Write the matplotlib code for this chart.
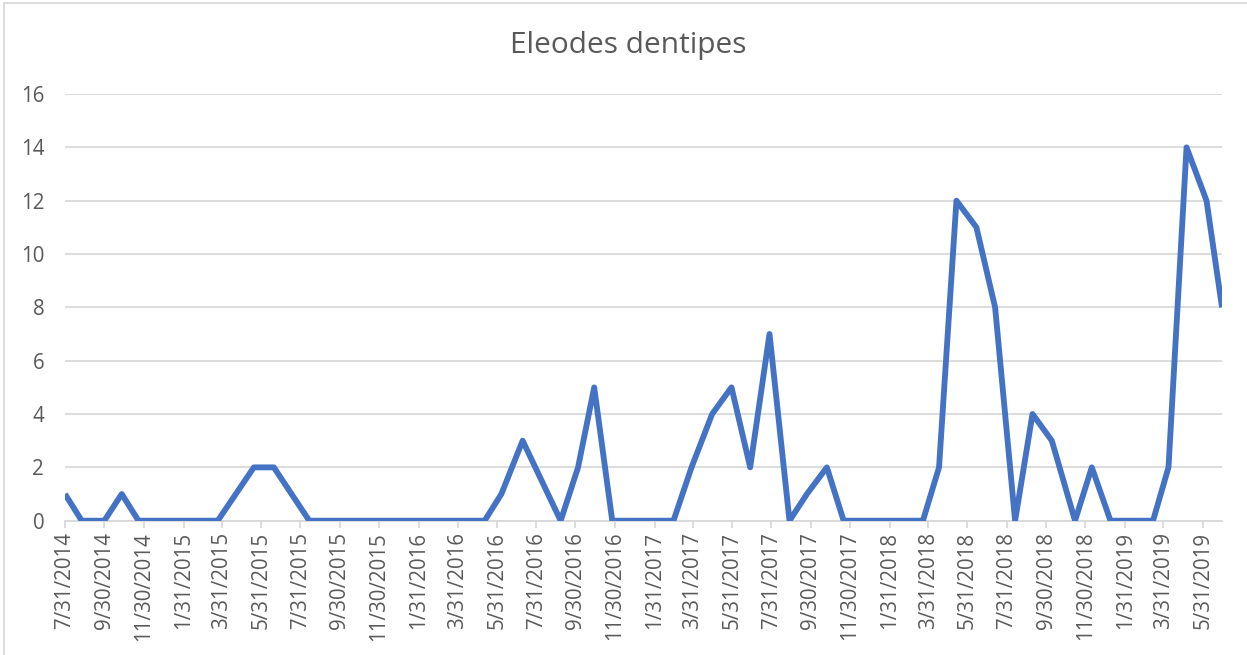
import matplotlib
matplotlib.use("Agg")
import matplotlib.pyplot as plt
from matplotlib.lines import Line2D
import pandas as pd

# Sampling dates and beetle counts
sample_dates = [
    "2014-07-31", "2014-08-26", "2014-09-30", "2014-10-27", "2014-11-22",
    "2015-03-25", "2015-05-20", "2015-06-20", "2015-08-14",
    "2016-05-12", "2016-06-07", "2016-07-10", "2016-09-07", "2016-10-04",
    "2016-10-29", "2016-11-26",
    "2017-03-01", "2017-03-29", "2017-04-30", "2017-05-30", "2017-06-28",
    "2017-07-28", "2017-08-28", "2017-09-24", "2017-10-25", "2017-11-20",
    "2018-03-23", "2018-04-17", "2018-05-14", "2018-06-14", "2018-07-13",
    "2018-08-13", "2018-09-09", "2018-10-09", "2018-11-14", "2018-12-10",
    "2019-01-08", "2019-03-15", "2019-04-08", "2019-05-06", "2019-06-06",
    "2019-06-30",
]
counts = [
    1, 0, 0, 1, 0,
    0, 2, 2, 0,
    0, 1, 3, 0, 2,
    5, 0,
    0, 2, 4, 5, 2,
    7, 0, 1, 2, 0,
    0, 2, 12, 11, 8,
    0, 4, 3, 0, 2,
    0, 0, 2, 14, 12,
    8,
]

# Axis tick positions (every second month end)
tick_dates = [
    "2014-07-31", "2014-09-30", "2014-11-30", "2015-01-31", "2015-03-31",
    "2015-05-31", "2015-07-31", "2015-09-30", "2015-11-30", "2016-01-31",
    "2016-03-31", "2016-05-31", "2016-07-31", "2016-09-30", "2016-11-30",
    "2017-01-31", "2017-03-31", "2017-05-31", "2017-07-31", "2017-09-30",
    "2017-11-30", "2018-01-31", "2018-03-31", "2018-05-31", "2018-07-31",
    "2018-09-30", "2018-11-30", "2019-01-31", "2019-03-31", "2019-05-31",
]
y_ticks = [0, 2, 4, 6, 8, 10, 12, 14, 16]

W, H = 1247, 655
fig = plt.figure(figsize=(W / 100, H / 100), dpi=100)
plt.rcParams["font.family"] = ["Open Sans", "DejaVu Sans"]

TEXT = "#595959"
GRID = "#D9D9D9"
BLUE = "#4472C4"

left, right = 65 / W, 1222 / W
bottom, top = 1 - 520.7 / H, 1 - 94 / H
ax = fig.add_axes([left, bottom, right - left, top - bottom])

x = pd.to_datetime(sample_dates)
ax.plot(x, counts, color=BLUE, lw=4.2, solid_joinstyle="round",
        solid_capstyle="butt", zorder=3, clip_on=True)

ax.set_ylim(0, 16)
ax.set_yticks(y_ticks)
ax.set_xlim(x[0], x[-1])

ticks = pd.to_datetime(tick_dates)
ax.set_xticks(ticks)
ax.set_xticklabels([f"{d.month}/{d.day}/{d.year}" for d in ticks],
                   rotation=90, color=TEXT, fontsize=14.8)
ax.tick_params(axis="x", length=5, width=1.3, color=GRID, pad=3)
ax.tick_params(axis="y", length=0, pad=15, labelcolor=TEXT, labelsize=14.8)

ax.grid(axis="y", color=GRID, lw=1.3, zorder=0)
for s in ["top", "right", "left"]:
    ax.spines[s].set_visible(False)
ax.spines["bottom"].set_color(GRID)
ax.spines["bottom"].set_linewidth(1.3)
ax.set_axisbelow(True)

fig.text(628 / W, 1 - 45 / H, "Eleodes dentipes", ha="center", va="center",
         color=TEXT, fontsize=21.5)

# Chart area frame
fig.add_artist(Line2D([4 / W, 4 / W], [0, 1 - 3 / H], transform=fig.transFigure,
                      color=GRID, lw=1.3))
fig.add_artist(Line2D([4 / W, 1], [1 - 3 / H, 1 - 3 / H], transform=fig.transFigure,
                      color=GRID, lw=1.3))

fig.savefig("out.png", dpi=100)
